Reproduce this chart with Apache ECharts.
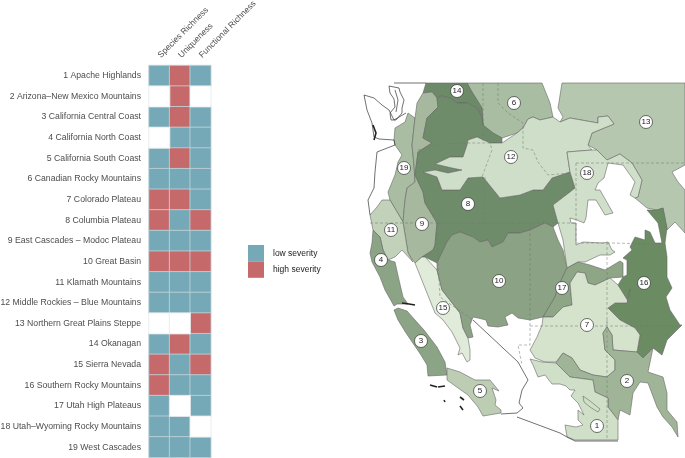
<!DOCTYPE html>
<html>
<head>
<meta charset="utf-8">
<style>html,body{margin:0;padding:0;background:#fff}#chart{width:685px;height:458px}</style>
<script src="https://cdn.jsdelivr.net/npm/echarts@6/dist/echarts.min.js"></script>
</head>
<body>
<div id="chart"></div>
<script>
const ecoregions = ['1 Apache Highlands', '2 Arizona–New Mexico Mountains', '3 California Central Coast', '4 California North Coast', '5 California South Coast', '6 Canadian Rocky Mountains', '7 Colorado Plateau', '8 Columbia Plateau', '9 East Cascades – Modoc Plateau', '10 Great Basin', '11 Klamath Mountains', '12 Middle Rockies – Blue Mountains', '13 Northern Great Plains Steppe', '14 Okanagan', '15 Sierra Nevada', '16 Southern Rocky Mountains', '17 Utah High Plateaus', '18 Utah–Wyoming Rocky Mountains', '19 West Cascades'];
const metrics = ['Species Richness', 'Uniqueness', 'Functional Richness'];

// 1 = low severity, 2 = high severity, 0 = nothing
const speciesRichness = [1, 0, 1, 0, 1, 1, 2, 2, 1, 2, 1, 1, 0, 1, 2, 2, 1, 1, 1];
const uniqueness = [2, 2, 2, 1, 2, 1, 2, 1, 1, 2, 1, 1, 0, 2, 1, 1, 0, 1, 1];
const functionalRichness = [1, 0, 1, 1, 1, 1, 1, 2, 1, 2, 1, 1, 2, 1, 2, 1, 1, 0, 1];

// region outlines
const shape13 = [[562,83],[685,83],[685,165],[672,172],[678,182],[685,190],[685,233],[675,222],[667,230],[663,208],[657,210],[647,208],[635,198],[638,197],[642,180],[632,163],[620,154],[607,160],[597,150],[588,145],[592,133],[614,124],[608,116],[598,117],[598,123],[570,118],[560,122],[563,117],[558,108]];
const shape6 = [[467,83],[542,83],[550,103],[553,117],[540,120],[533,117],[528,119],[523,128],[517,133],[502,138],[493,133],[483,125],[482,108],[472,92]];
const shape14 = [[426,83],[467,83],[472,92],[482,108],[483,125],[482,118],[477,108],[467,103],[457,103],[450,98],[442,96],[437,98],[432,92],[423,93]];
const shape19 = [[408,113],[415,118],[412,145],[414,165],[415,182],[407,188],[405,200],[403,222],[390,200],[388,192],[395,175],[398,162],[402,155],[395,145],[394,140],[395,128],[405,122]];
const shape9 = [[423,93],[432,92],[437,98],[438,107],[427,118],[423,138],[432,143],[418,152],[415,175],[423,192],[425,203],[437,223],[435,245],[433,250],[422,257],[415,263],[408,253],[403,222],[405,200],[407,188],[415,182],[414,165],[412,145],[415,118],[417,103]];
const shape8 = [[437,98],[442,96],[450,98],[457,103],[467,103],[477,108],[482,118],[483,125],[493,133],[502,138],[502,143],[490,143],[477,137],[468,140],[467,145],[463,157],[450,157],[435,164],[452,168],[462,170],[448,173],[435,170],[423,172],[437,177],[442,190],[460,190],[468,178],[483,177],[500,198],[520,195],[533,190],[543,190],[552,178],[570,172],[575,188],[570,192],[553,205],[558,223],[553,227],[545,223],[530,230],[520,233],[508,233],[503,242],[492,247],[488,240],[480,242],[473,237],[460,232],[452,235],[447,242],[437,263],[425,257],[422,257],[433,250],[435,245],[437,223],[425,203],[423,192],[415,175],[418,152],[432,143],[423,138],[427,118],[438,107]];
const shape12 = [[502,143],[517,133],[523,128],[528,119],[533,117],[540,120],[553,117],[560,122],[570,118],[598,123],[598,117],[608,116],[614,124],[592,133],[588,145],[592,150],[567,152],[570,172],[552,178],[543,190],[533,190],[520,195],[500,198],[483,177],[468,178],[460,190],[442,190],[437,177],[423,172],[435,170],[448,173],[462,170],[452,168],[435,164],[450,157],[463,157],[467,145],[468,140],[477,137],[490,143]];
const shape18 = [[567,152],[592,150],[597,150],[607,160],[620,154],[632,163],[642,180],[638,197],[635,198],[630,195],[635,182],[623,165],[608,163],[604,178],[598,183],[595,190],[600,190],[613,213],[605,215],[596,200],[588,200],[586,218],[584,223],[577,220],[570,218],[571,223],[576,223],[576,245],[583,242],[603,243],[608,242],[612,250],[615,252],[610,255],[600,255],[585,262],[578,262],[567,268],[563,240],[558,223],[553,205],[570,192],[575,188],[570,172]];
const shape11 = [[382,200],[390,200],[403,222],[408,253],[413,262],[402,250],[395,257],[388,260],[383,250],[380,237],[373,230],[370,215],[377,207]];
const shape4 = [[373,230],[380,237],[383,250],[388,260],[395,262],[399,280],[403,297],[408,304],[397,304],[394,306],[385,290],[380,277],[372,262],[370,253],[372,243]];
const shape3 = [[398,308],[407,311],[415,320],[424,330],[437,347],[445,362],[447,375],[428,376],[427,365],[421,355],[406,333],[398,320],[394,310]];
const shape5 = [[447,368],[460,372],[475,380],[490,380],[499,391],[492,388],[496,400],[495,405],[501,410],[501,413],[483,416],[478,407],[468,395],[458,388],[447,380]];
const shape15 = [[415,263],[422,257],[425,257],[437,270],[442,290],[460,313],[463,328],[468,338],[470,350],[470,360],[467,362],[462,353],[458,355],[460,348],[452,332],[443,320],[435,313],[431,303],[423,283]];
const shape10 = [[437,263],[447,242],[452,235],[460,232],[473,237],[480,242],[488,240],[492,247],[503,242],[508,233],[520,233],[530,230],[545,223],[553,227],[558,240],[563,250],[567,268],[565,272],[558,287],[555,297],[543,317],[530,320],[518,318],[512,313],[505,317],[508,325],[498,327],[488,326],[486,320],[478,318],[473,317],[470,325],[473,337],[468,338],[463,328],[460,313],[442,290],[437,270]];
const shape17 = [[567,268],[578,262],[590,265],[605,270],[620,261],[623,263],[623,277],[610,278],[595,285],[588,283],[585,273],[577,272],[570,283],[572,305],[563,307],[553,317],[543,317],[555,297],[558,287],[565,272]];
const shape16 = [[627,275],[627,260],[623,258],[632,250],[630,247],[635,237],[645,240],[645,230],[650,232],[655,243],[662,243],[658,223],[647,210],[657,210],[663,208],[667,228],[665,243],[667,257],[667,277],[672,288],[666,297],[670,310],[680,325],[682,325],[667,340],[662,355],[653,348],[643,358],[637,352],[640,335],[635,328],[620,320],[608,308],[615,303],[610,290],[618,285],[623,277]];
const shape7 = [[577,272],[585,273],[588,283],[595,285],[610,278],[618,285],[628,301],[630,289],[627,303],[615,303],[608,308],[620,320],[635,328],[640,335],[637,352],[613,350],[612,335],[607,327],[603,333],[605,350],[615,360],[615,370],[607,377],[593,375],[580,370],[572,358],[563,353],[556,362],[545,362],[535,358],[530,350],[537,337],[542,325],[543,317],[553,317],[563,307],[572,305],[570,283]];
const shape2 = [[556,363],[563,353],[572,358],[580,370],[593,375],[607,377],[615,370],[615,360],[605,350],[603,333],[607,327],[612,335],[613,350],[637,352],[643,358],[653,348],[648,372],[663,377],[667,393],[667,410],[677,422],[678,437],[672,427],[663,417],[657,407],[648,383],[640,382],[633,393],[630,415],[620,410],[618,420],[608,407],[608,398],[595,392],[593,380],[570,377]];
const shape1 = [[530,359],[542,362],[556,363],[570,377],[593,380],[595,392],[608,398],[608,407],[618,420],[618,440],[575,440],[567,437],[565,425],[576,427],[583,425],[578,420],[578,410],[584,415],[578,403],[571,396],[575,390],[570,390],[566,386],[560,384],[552,384],[545,375],[538,377],[533,365]];
const shape1Hole = [[583,396],[590,401],[600,409],[598,412],[590,407],[584,402]];

const regionNumbers = [13, 6, 14, 19, 9, 8, 12, 18, 11, 4, 3, 5, 15, 10, 17, 16, 7, 2, 1];
const regionShapes = [[[shape13]], [[shape6]], [[shape14]], [[shape19]], [[shape9]], [[shape8]], [[shape12]], [[shape18]], [[shape11]], [[shape4]], [[shape3]], [[shape5]], [[shape15]], [[shape10]], [[shape17]], [[shape16]], [[shape7]], [[shape2]], [[shape1, shape1Hole]]];

// badge spots
const badgeNumbers = [1, 2, 3, 4, 5, 6, 7, 8, 9, 10, 11, 12, 13, 14, 15, 16, 17, 18, 19];
const badgeX = [597, 627, 421, 381, 480, 514, 587, 468, 422, 499, 391, 511, 646, 457, 443, 644, 562, 587, 404];
const badgeY = [426, 381, 341, 260, 391, 103, 325, 204, 224, 281, 230, 157, 122, 91, 308, 283, 288, 173, 168];

// coast, outer border, islands
const coastWest = [[394,120],[389,110],[382,105],[374,98],[364,95],[367,110],[372,123],[374,137],[379,139],[394,140],[395,145],[377,152],[375,172],[374,188],[368,200],[370,215]];
const coastTop = [[394,83],[426,83]];
const pugetEdge = [[394,120],[406,113]];
const pugetSound = [[389,86],[399,88],[400,92],[404,100],[402,108],[402,113],[396,120],[391,120],[390,113],[395,107],[394,99],[390,93],[389,86]];
const pugetInner = [[395,90],[398,100],[396,112]];
const grayHarbor = [[373,125],[376,133],[374,140]];
const bayArea = [[402,303],[409,304],[415,305]];
const borderSouth = [[473,320],[518,362],[528,380],[522,390],[519,403],[523,408],[517,413],[501,414]];
const borderMexico = [[517,417],[560,433],[567,437],[575,441],[618,441]];
const islandA = [[430,385],[437,387]];
const islandB = [[438,387],[445,386]];
const islandC = [[444,400],[445,402]];
const islandD = [[460,397],[464,400]];
const islandE = [[460,406],[463,410]];
const coastPieces = [coastWest, coastTop, pugetEdge, pugetSound, pugetInner, borderSouth, borderMexico];
const thickPieces = [grayHarbor, bayArea, islandA, islandB, islandC, islandD, islandE];

// state lines
const lineWaOr = [[418,150],[443,144],[467,143],[490,143],[492,150],[482,177]];
const lineWaId = [[483,83],[483,143]];
const lineOrId = [[485,177],[484,223]];
const line42 = [[437,223],[530,223],[553,223],[576,223]];
const line42West = [[370,223],[437,223]];
const lineNvCa = [[437,223],[438,263],[440,297],[473,320]];
const lineIdMt = [[498,83],[498,103],[508,113],[523,123],[523,148],[533,150],[538,162],[548,175],[570,173]];
const lineWyMt = [[576,163],[685,163]];
const lineWyWest = [[576,163],[576,243]];
const lineUtCo = [[576,243],[607,243],[607,326]];
const lineWyCo = [[607,243],[663,244]];
const lineUtNv = [[530,223],[530,345],[518,345],[522,365]];
const lineFourCorners = [[530,326],[680,326]];
const lineAzNm = [[607,320],[607,440]];
const statePieces = [lineWaOr, lineWaId, lineOrId, line42, line42West, lineNvCa, lineIdMt, lineWyMt, lineWyWest, lineUtCo, lineWyCo, lineUtNv, lineFourCorners, lineAzNm];

const greens = {
  1: '#cfdfc8', 2: '#a0b598', 3: '#8ca486', 4: '#8ca486', 5: '#bccdb4', 6: '#a9bda2', 7: '#d5e3cd',
  8: '#6f8c6a', 9: '#a6b99f', 10: '#8ca284', 11: '#c2d1ba', 12: '#cfdec8', 13: '#b5c7ae', 14: '#6c8a67',
  15: '#e0ecd9', 16: '#6b8b62', 17: '#8ea686', 18: '#d0dfc9', 19: '#a9bda2'
};

const myChart = echarts.init(document.getElementById('chart'), null, { renderer: 'canvas' });

const geojson = {
  type: 'FeatureCollection',
  features: regionNumbers.map((n, i) => ({
    type: 'Feature',
    properties: { name: String(n) },
    geometry: { type: 'MultiPolygon', coordinates: regionShapes[i] }
  }))
};
echarts.registerMap('ecoregions', geojson);

// box of the outlines, the map view sits on it
const allPoints = regionShapes.flat(3);
const xs = allPoints.map(p => p[0]);
const ys = allPoints.map(p => p[1]);
const minX = Math.min(...xs), maxX = Math.max(...xs), minY = Math.min(...ys), maxY = Math.max(...ys);

const cells = [], blanks = [];
[speciesRichness, uniqueness, functionalRichness].forEach((col, c) => {
  col.forEach((v, r) => {
    if (v) cells.push([c, r, v]);
    else blanks.push([c, r, 0]);
  });
});

const option = {
  animation: false,
  textStyle: { fontFamily: '"Liberation Sans", Arial, sans-serif' },
  grid: { left: 149, top: 65.5, width: 61.8, height: 392, outerBoundsMode: 'none' },
  xAxis: {
    type: 'category', position: 'top', data: metrics,
    axisLine: { show: false }, axisTick: { show: false }, splitLine: { show: false },
    axisLabel: { rotate: -45, fontSize: 8.5, color: '#4d4d4d', margin: 9, interval: 0 }
  },
  yAxis: {
    type: 'category', inverse: true, data: ecoregions,
    axisLine: { show: false }, axisTick: { show: false }, splitLine: { show: false },
    axisLabel: { fontSize: 8.7, color: '#4d4d4d', margin: 8, interval: 0 }
  },
  visualMap: {
    type: 'piecewise', seriesIndex: 0, left: 248, top: 245, orient: 'vertical', inverse: true,
    itemWidth: 16, itemHeight: 16.4, itemGap: 0, itemSymbol: 'rect', padding: 0, align: 'left',
    textGap: 9, textStyle: { fontSize: 8.5, color: '#222' }, selectedMode: false,
    pieces: [
      { value: 1, label: 'low severity', color: '#76a9b7' },
      { value: 2, label: 'high severity', color: '#c6696b' }
    ]
  },
  geo: {
    map: 'ecoregions', roam: false, silent: true,
    projection: { project: p => p, unproject: p => p },
    left: minX, top: minY, width: maxX - minX, height: maxY - minY,
    label: { show: false },
    itemStyle: { borderColor: '#666', borderWidth: 0.6 },
    regions: regionNumbers.map(n => ({ name: String(n), itemStyle: { areaColor: greens[n] } }))
  },
  series: [
    {
      type: 'heatmap', data: cells, silent: true,
      itemStyle: { borderColor: '#c3d6da', borderWidth: 0.8 }
    },
    {
      type: 'heatmap', data: blanks, silent: true,
      itemStyle: { color: '#fff', borderColor: '#e4e9ea', borderWidth: 0.8 }
    },
    {
      type: 'lines', coordinateSystem: 'geo', polyline: true, silent: true,
      data: statePieces.map(c => ({ coords: c })),
      lineStyle: { color: '#6e7a6c', width: 0.6, type: [3, 2], opacity: 0.85 }
    },
    {
      type: 'lines', coordinateSystem: 'geo', polyline: true, silent: true,
      data: coastPieces.map(c => ({ coords: c })),
      lineStyle: { color: '#333', width: 0.7, opacity: 1 }
    },
    {
      type: 'lines', coordinateSystem: 'geo', polyline: true, silent: true,
      data: thickPieces.map(c => ({ coords: c })),
      lineStyle: { color: '#222', width: 1.6, opacity: 1 }
    },
    {
      type: 'scatter', coordinateSystem: 'geo', silent: true, symbol: 'circle', symbolSize: 13,
      data: badgeNumbers.map((n, i) => [badgeX[i], badgeY[i], n]),
      itemStyle: { color: '#fff', borderColor: '#333', borderWidth: 0.7, opacity: 1 },
      label: { show: true, position: 'inside', fontSize: 8, color: '#222', formatter: p => p.value[2] }
    }
  ]
};
myChart.setOption(option);
</script>
</body>
</html>
